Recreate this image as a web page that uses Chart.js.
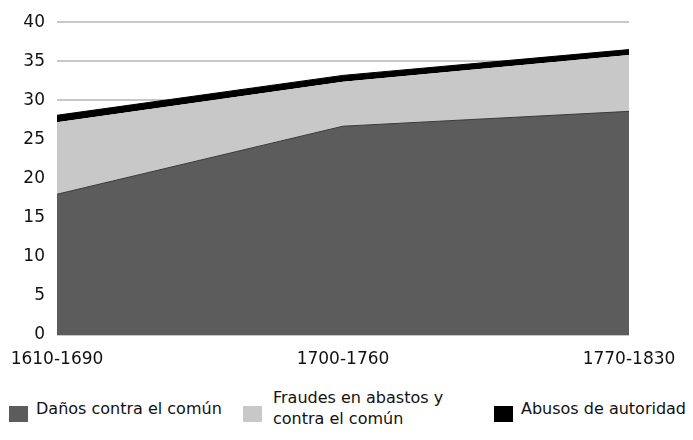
<!DOCTYPE html>
<html>
<head>
<meta charset="utf-8">
<script src="https://cdn.jsdelivr.net/npm/chart.js@4/dist/chart.umd.min.js"></script>
<style>
  html, body { margin: 0; padding: 0; background: #fff; }
  #wrap { position: relative; width: 693px; height: 440px; font-family: "DejaVu Sans", sans-serif; color: #111; }
  #chart { position: absolute; left: 0; top: 0; }
  .leg { position: absolute; font-size: 16px; line-height: 21px; }
  .leg .box { position: absolute; width: 19px; height: 16px; top: 8px; }
  .leg .txt { position: absolute; white-space: nowrap; }
</style>
</head>
<body>
<div id="wrap">
  <canvas id="chart" width="693" height="380"></canvas>
  <div id="legend"></div>
</div>
<script>
const periods = ["1610-1690", "1700-1760", "1770-1830"];
const seriesNames = ["Daños contra el común", "Fraudes en abastos y contra el común", "Abusos de autoridad"];
const legendLines = [["Daños contra el común"], ["Fraudes en abastos y", "contra el común"], ["Abusos de autoridad"]];
const danos = [18.0, 26.7, 28.6];
const fraudes = [9.2, 5.7, 7.2];
const abusos = [0.9, 0.8, 0.7];
const colors = ['#5c5c5c', '#c8c8c8', '#000000'];

const ctx = document.getElementById('chart').getContext('2d');
new Chart(ctx, {
  type: 'line',
  data: {
    labels: periods,
    datasets: [
      { label: seriesNames[0], data: danos, backgroundColor: colors[0], borderColor: '#3a3a3a', borderWidth: 1, fill: 'origin', pointRadius: 0, tension: 0 },
      { label: seriesNames[1], data: fraudes, backgroundColor: colors[1], borderColor: colors[1], borderWidth: 0, fill: '-1', pointRadius: 0, tension: 0 },
      { label: seriesNames[2], data: abusos, backgroundColor: colors[2], borderColor: colors[2], borderWidth: 1, fill: '-1', pointRadius: 0, tension: 0 }
    ]
  },
  options: {
    responsive: false,
    animation: false,
    layout: { padding: { top: 20, right: 64, left: 0, bottom: 0 } },
    plugins: { legend: { display: false }, tooltip: { enabled: false } },
    scales: {
      x: {
        offset: false,
        grid: { display: false },
        border: { display: false },
        ticks: { color: '#111', font: { family: 'DejaVu Sans', size: 17 }, padding: 6, maxRotation: 0 },
        afterFit: (axis) => { axis.height = 45; }
      },
      y: {
        stacked: true,
        min: 0,
        max: 40,
        grid: { color: '#c8c8c8', lineWidth: 2, drawTicks: false },
        border: { display: false },
        ticks: { stepSize: 5, color: '#111', font: { family: 'DejaVu Sans', size: 17 }, padding: 12 },
        afterFit: (axis) => { axis.width = 57; }
      }
    }
  }
});

// legend below the chart
const legendPos = [{ x: 9, y: 398 }, { x: 243, y: 387 }, { x: 494, y: 398 }];
const legend = document.getElementById('legend');
legendLines.forEach((lines, i) => {
  const item = document.createElement('div');
  item.className = 'leg';
  item.style.left = legendPos[i].x + 'px';
  item.style.top = legendPos[i].y + 'px';
  const box = document.createElement('div');
  box.className = 'box';
  box.style.background = colors[i];
  box.style.top = (i === 1 ? 19 : 8) + 'px';
  const txt = document.createElement('div');
  txt.className = 'txt';
  txt.style.left = (i === 1 ? 30 : 27) + 'px';
  txt.innerHTML = lines.join('<br>');
  item.appendChild(box);
  item.appendChild(txt);
  legend.appendChild(item);
});
</script>
</body>
</html>
